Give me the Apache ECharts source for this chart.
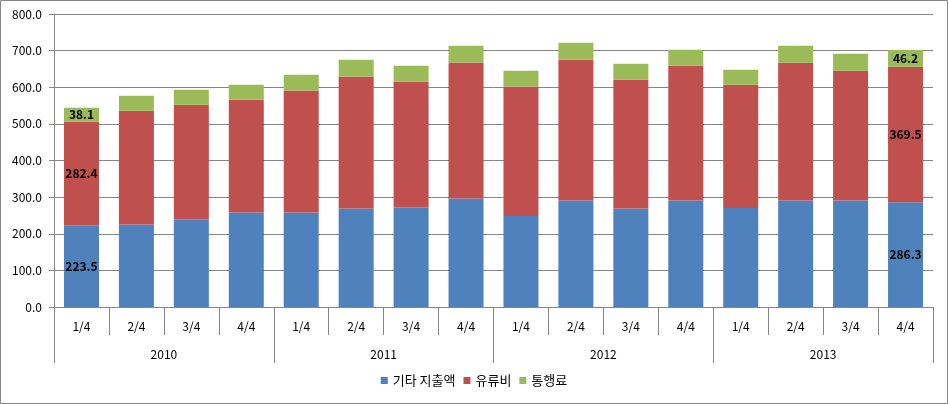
<!DOCTYPE html>
<html><head><meta charset="utf-8">
<script src="https://cdn.jsdelivr.net/npm/echarts@6/dist/echarts.min.js"></script>
<style>html,body{margin:0;padding:0;background:#fff}#c{width:948px;height:404px}</style>
</head><body><div id="c"></div>
<script>
const quarters = ['1/4','2/4','3/4','4/4','1/4','2/4','3/4','4/4','1/4','2/4','3/4','4/4','1/4','2/4','3/4','4/4'];
const years = ['2010','2011','2012','2013'];
const seriesNames = ['기타 지출액','유류비','통행료'];
const other = [223.5,225.0,238.6,257.7,257.7,268.7,271.4,296.0,248.7,290.5,268.7,290.5,270.6,290.5,290.5,286.3];
const fuel  = [282.4,310.7,313.4,308.0,333.6,360.8,343.5,371.7,353.3,384.5,351.7,368.2,336.0,376.4,354.5,369.5];
const toll  = [38.1,41.0,41.0,41.0,43.0,45.5,43.7,45.6,43.0,46.5,43.7,43.7,41.0,46.4,46.5,46.2];
const yTicks = {min:0, max:800, interval:100};
const labeled = [0, 15];
const colors = ['#4F81BD','#C0504D','#9BBB59'];
const fontFam = '"Noto Sans CJK KR", "Noto Sans", sans-serif';

function mk(arr){
  return arr.map((v,i)=>({value:v, label:{show: labeled.includes(i)}}));
}
const chart = echarts.init(document.getElementById('c'));
const gridLine = '#868686';
chart.setOption({
  animation:false,
  textStyle:{fontFamily:fontFam},
  graphic:[{type:'rect', shape:{x:0.5,y:0.5,width:947,height:403}, style:{fill:null, stroke:'#868686', lineWidth:1}, z:100}],
  grid:{left:54, right:15, top:14, bottom:97},
  legend:{bottom:12, left:'center', itemWidth:7, itemHeight:7, itemGap:8, icon:'rect',
    textStyle:{fontSize:13, color:'#000', fontFamily:fontFam}, data:seriesNames},
  xAxis:[
    {type:'category', data:quarters, position:'bottom',
     axisLine:{show:true, lineStyle:{color:gridLine}},
     axisTick:{show:true, length:28, interval:0, alignWithLabel:false, lineStyle:{color:gridLine}},
     axisLabel:{interval:0, margin:13, color:'#000', fontSize:12, fontFamily:fontFam}},
    {type:'category', data:years, position:'bottom', gridIndex:0,
     axisLine:{show:false},
     axisTick:{show:true, length:56, interval:0, alignWithLabel:false, lineStyle:{color:gridLine}},
     axisLabel:{interval:0, margin:41, color:'#000', fontSize:12, fontFamily:fontFam}}
  ],
  yAxis:{type:'value', min:yTicks.min, max:yTicks.max, interval:yTicks.interval,
    axisLine:{show:true, lineStyle:{color:gridLine}},
    axisTick:{show:true, length:5, lineStyle:{color:gridLine}},
    splitLine:{lineStyle:{color:gridLine}},
    axisLabel:{formatter:v=>v.toFixed(1), color:'#000', fontSize:12, margin:12, fontFamily:fontFam}},
  series:[other, fuel, toll].map((arr,k)=>({
    name:seriesNames[k], type:'bar', stack:'s', xAxisIndex:0, barWidth:35,
    itemStyle:{color:colors[k]},
    label:{position:'inside', color:'#000', fontWeight:'bold', fontSize:12, formatter:p=>p.value.toFixed(1)},
    data:mk(arr)
  }))
});
</script></body></html>
